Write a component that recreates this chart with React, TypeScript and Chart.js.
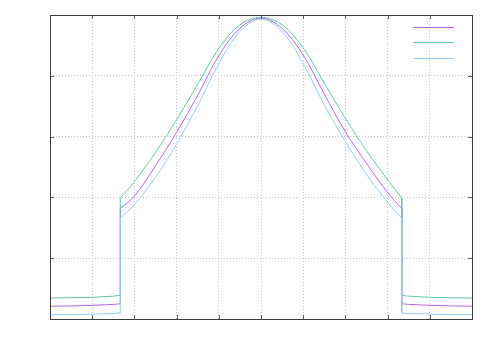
import React, { useEffect, useRef } from "react";
import { Chart, registerables } from "chart.js";

Chart.register(...registerables);

// x positions of the smooth (high) part of each curve
const curveX = [1.665, 2, 2.5, 3, 3.5, 4, 4.5, 5, 5.5, 6, 6.5, 7, 7.5, 8, 8.335];
const purpleCurve = [1.82, 2.02, 2.52, 3.07, 3.68, 4.33, 4.78, 4.95, 4.78, 4.34, 3.70, 3.08, 2.56, 2.08, 1.82];
const greenCurve = [1.99, 2.26, 2.74, 3.28, 3.86, 4.45, 4.84, 4.96, 4.84, 4.46, 3.88, 3.30, 2.77, 2.29, 1.99];
const blueCurve = [1.66, 1.88, 2.33, 2.88, 3.51, 4.20, 4.73, 4.93, 4.73, 4.20, 3.52, 2.92, 2.38, 1.92, 1.66];

// flat low parts
const lowLeftX = [0, 0.5, 1, 1.5, 1.665];
const lowRightX = [8.335, 8.5, 9, 9.5, 10];
const purpleLowLeft = [0.21, 0.215, 0.225, 0.24, 0.25];
const purpleLowRight = [0.25, 0.24, 0.225, 0.215, 0.21];
const greenLowLeft = [0.345, 0.35, 0.357, 0.375, 0.39];
const greenLowRight = [0.39, 0.375, 0.357, 0.35, 0.345];
const blueLowLeft = [0.07, 0.073, 0.08, 0.09, 0.1];
const blueLowRight = [0.1, 0.09, 0.08, 0.073, 0.07];

const xTicks = [0, 1, 2, 3, 4, 5, 6, 7, 8, 9, 10];
const yTicks = [0, 1, 2, 3, 4, 5];

const seriesColors = ["#b264e4", "#5cc8a6", "#92cdf0"];

function pts(xs: number[], ys: number[]) {
  return xs.map((x, i) => ({ x, y: ys[i] }));
}

function buildSeries(curve: number[], lowL: number[], lowR: number[], color: string) {
  const left = pts(lowLeftX, lowL).concat([{ x: curveX[0], y: curve[0] }]);
  const right = [{ x: curveX[curveX.length - 1], y: curve[curve.length - 1] }].concat(pts(lowRightX, lowR));
  const base = {
    borderColor: color,
    borderWidth: 1,
    pointRadius: 0,
    fill: false,
  };
  return [
    { ...base, data: left, tension: 0 },
    { ...base, data: pts(curveX, curve), tension: 0.35 },
    { ...base, data: right, tension: 0 },
  ];
}

const framePlugin = {
  id: "frame",
  afterDraw(chart: any) {
    const { ctx, chartArea } = chart;
    const { left, right, top, bottom } = chartArea;
    const xs = chart.scales.x;
    const ys = chart.scales.y;
    ctx.save();
    ctx.strokeStyle = "#5a5a5a";
    ctx.lineWidth = 1;
    ctx.beginPath();
    const tl = 4;
    xTicks.forEach((v) => {
      const px = Math.round(xs.getPixelForValue(v)) + 0.5;
      ctx.moveTo(px, bottom);
      ctx.lineTo(px, bottom - tl);
      ctx.moveTo(px, top);
      ctx.lineTo(px, top + tl);
    });
    yTicks.forEach((v) => {
      const py = Math.round(ys.getPixelForValue(v)) + 0.5;
      ctx.moveTo(left, py);
      ctx.lineTo(left + tl, py);
      ctx.moveTo(right, py);
      ctx.lineTo(right - tl, py);
    });
    ctx.stroke();
    ctx.strokeStyle = "#3c3c3c";
    ctx.strokeRect(Math.round(left) + 0.5, Math.round(top) + 0.5, Math.round(right - left), Math.round(bottom - top));
    // legend samples (no titles)
    seriesColors.forEach((c, i) => {
      const y = Math.round(top + 12 + i * 15.3) + 0.5;
      ctx.strokeStyle = c;
      ctx.beginPath();
      ctx.moveTo(right - 59, y);
      ctx.lineTo(right - 18, y);
      ctx.stroke();
    });
    ctx.restore();
  },
};

export default function App() {
  const ref = useRef<HTMLCanvasElement | null>(null);
  useEffect(() => {
    document.body.style.margin = "0";
    if (!ref.current) return;
    // Chart.js paints dataset 0 last (on top); the light-blue series sits on top in the reference
    const datasets = [
      ...buildSeries(blueCurve, blueLowLeft, blueLowRight, seriesColors[2]),
      ...buildSeries(greenCurve, greenLowLeft, greenLowRight, seriesColors[1]),
      ...buildSeries(purpleCurve, purpleLowLeft, purpleLowRight, seriesColors[0]),
    ];
    const chart = new Chart(ref.current, {
      type: "line",
      data: { datasets },
      options: {
        animation: false,
        responsive: false,
        layout: { padding: { left: 50, right: 28, top: 15, bottom: 31 } },
        plugins: { legend: { display: false }, tooltip: { enabled: false } },
        scales: {
          x: {
            type: "linear",
            min: 0,
            max: 10,
            afterBuildTicks: (s: any) => {
              s.ticks = xTicks.map((v) => ({ value: v }));
            },
            ticks: { display: false },
            grid: { color: "#c4c4c4", drawTicks: false, lineWidth: 1 },
            border: { display: false, dash: [1, 2] },
          },
          y: {
            type: "linear",
            min: 0,
            max: 5,
            afterBuildTicks: (s: any) => {
              s.ticks = yTicks.map((v) => ({ value: v }));
            },
            ticks: { display: false },
            grid: { color: "#c4c4c4", drawTicks: false, lineWidth: 1 },
            border: { display: false, dash: [1, 2] },
          },
        },
      },
      plugins: [framePlugin],
    });
    return () => chart.destroy();
  }, []);
  return (
    <div style={{ width: 500, height: 350, background: "#fff" }}>
      <canvas ref={ref} width={500} height={350} />
    </div>
  );
}
